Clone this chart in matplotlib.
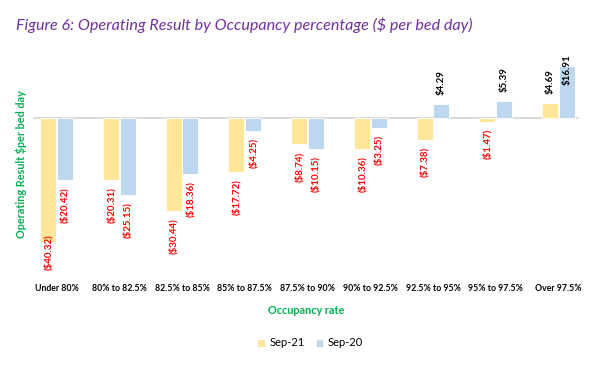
import matplotlib
matplotlib.use("Agg")
import matplotlib.pyplot as plt
import numpy as np

plt.rcParams['font.family'] = ['Lato', 'DejaVu Sans']

categories = ["Under 80%", "80% to 82.5%", "82.5% to 85%", "85% to 87.5%", "87.5% to 90%",
              "90% to 92.5%", "92.5% to 95%", "95% to 97.5%", "Over 97.5%"]
sep21 = [-40.32, -20.31, -30.44, -17.72, -8.74, -10.36, -7.38, -1.47, 4.69]
sep20 = [-20.42, -25.15, -18.36, -4.25, -10.15, -3.25, 4.29, 5.39, 16.91]
series_names = ["Sep-21", "Sep-20"]

YELLOW = "#FFE699"
BLUE = "#BDD7EE"
GREEN = "#00B050"
PURPLE = "#7030A0"

W, H = 602, 369
fig = plt.figure(figsize=(W / 100, H / 100), dpi=100)
# plot area in pixels: left 33, right 579, top 47, bottom 274
ax = fig.add_axes([33 / W, 1 - 274 / H, (579 - 33) / W, (274 - 47) / H])

x = np.arange(len(categories))
bw = 0.255
ymin, ymax = -50.9, 23.0
ax.set_xlim(-0.375, 8.327)
ax.set_ylim(ymin, ymax)

ax.bar(x - bw / 2 - 0.005, sep21, bw, color=YELLOW, edgecolor="white", linewidth=0.6, label=series_names[0])
ax.bar(x + bw / 2 + 0.005, sep20, bw, color=BLUE, edgecolor="white", linewidth=0.6, label=series_names[1])
ax.axhline(0, color="#D9D9D9", linewidth=1.4, zorder=0)

# data labels, kept inside the plot area like Excel does
upp = (274 - 47) / (ymax - ymin)  # pixels per unit
lab_len = 39 / upp
for xs, vals in ((x - bw / 2 - 0.005, sep21), (x + bw / 2 + 0.005, sep20)):
    for xi, v in zip(xs, vals):
        if v < 0:
            txt = "(${:.2f})".format(-v)
            y = max(v - 7 / upp, ymin + lab_len + 1 / upp)
            ax.text(xi, y, txt, rotation=90, ha="center", va="top", color="#FF0000",
                    fontsize=7, fontweight="bold")
        else:
            txt = "${:.2f}".format(v)
            y = min(v + 9 / upp, ymax - lab_len + 1 / upp)
            ax.text(xi, y, txt, rotation=90, ha="center", va="bottom", color="black",
                    fontsize=7, fontweight="bold")

ax.set_xticks(x)
ax.set_xticklabels(categories, fontsize=6.3, fontweight="bold")
ax.tick_params(axis="x", length=0, pad=7)
ax.set_yticks([])
for s in ax.spines.values():
    s.set_visible(False)

ax.set_xlabel("Occupancy rate", color=GREEN, fontsize=7.8, fontweight="bold", labelpad=9)
fig.text(21 / W, 1 - 164 / H, "Operating Result $per bed day", rotation=90, color=GREEN,
         fontsize=7.8, fontweight="bold", ha="center", va="center")

fig.text(16 / W, 1 - 25 / H, "Figure 6: Operating Result by Occupancy percentage ($ per bed day)",
         color=PURPLE, fontsize=11.6, style="italic", ha="left", va="center")

fig.legend(loc="center", bbox_to_anchor=(310 / W, 1 - 343 / H), ncol=2, frameon=False,
           fontsize=8, handlelength=0.7, handleheight=0.7, handletextpad=0.4, columnspacing=1.0)

fig.savefig("out.png", dpi=100)
